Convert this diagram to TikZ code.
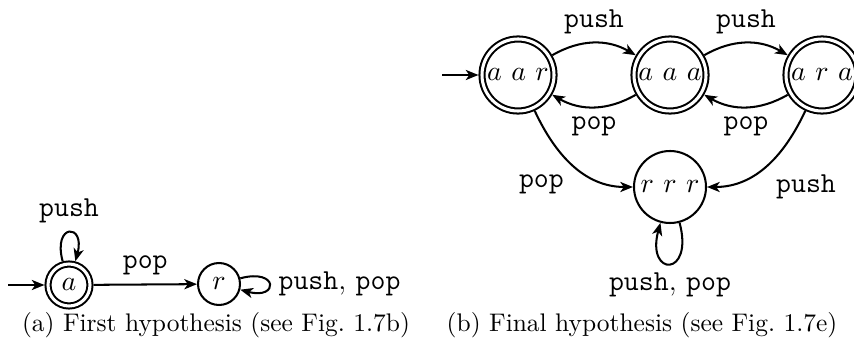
\documentclass[tikz,border=0pt]{standalone}
\usepackage{amsmath,amssymb}
\usepackage{tikz}
\usetikzlibrary{arrows.meta}
\newcommand{\psh}{\texttt{push}}
\newcommand{\pp}{\texttt{pop}}
\newcommand{\lblsize}{\fontsize{11.4}{13.7}\selectfont}

\begin{document}
\begin{tikzpicture}[
  x=0.393pt,y=-0.393pt,
  font=\lblsize,
  st/.style={circle,draw,thick,inner sep=0pt,outer sep=0.4pt},
  stsmall/.style={st,minimum size=16.5pt},
  stbig/.style={st,minimum size=28.3pt},
  acc/.style={double,double distance=1.2pt,outer sep=1.4pt},
  arr/.style={-{Stealth[length=5pt,width=4pt,inset=1.4pt]},thick},
  captext/.style={font=\fontsize{10}{12}\selectfont,inner sep=0pt}
]
\useasboundingbox (0,0) rectangle (854,346);
% (a) first hypothesis
\node[stsmall,acc] (a) at (69,285) {$a$};
\node[stsmall] (r) at (219,284) {$r$};
\coordinate (sa) at (8,285);
\draw[arr] (sa) -- (a);
\draw[arr] (a) -- node[above] {\pp} (r);
\draw[arr] (a) to[loop above] node[above] {\psh} (a);
\draw[arr] (r) to[loop right,min distance=5.5mm] node[right] {\psh, \pp} (r);
\node[captext] (capa) at (216,325) {(a) First hypothesis (see Fig.~1.7b)};
% (b) final hypothesis
\node[stbig,acc] (aar) at (518,75) {$a\ a\ r$};
\node[stbig,acc] (aaa) at (670,75) {$a\ a\ a$};
\node[stbig,acc] (ara) at (822,75) {$a\ r\ a$};
\node[stbig] (rrr) at (670,187) {$r\ r\ r$};
\coordinate (saar) at (442,75);
\draw[arr] (saar) -- (aar);
\draw[arr] (aar) to[bend left=30] node[above] {\psh} (aaa);
\draw[arr] (aaa) to[bend left=30] node[below] {\pp} (aar);
\draw[arr] (aaa) to[bend left=30] node[above] {\psh} (ara);
\draw[arr] (ara) to[bend left=30] node[below] {\pp} (aaa);
\draw[arr] (aar) to[out=-65,in=180] node[below left] {\pp} (rrr);
\draw[arr] (ara) to[out=-115,in=0] node[below right] {\psh} (rrr);
\draw[arr] (rrr) to[loop below,min distance=7.8mm] node[below] {\psh, \pp} (rrr);
\node[captext] (capb) at (642,325) {(b) Final hypothesis (see Fig.~1.7e)};
\end{tikzpicture}
\end{document}
